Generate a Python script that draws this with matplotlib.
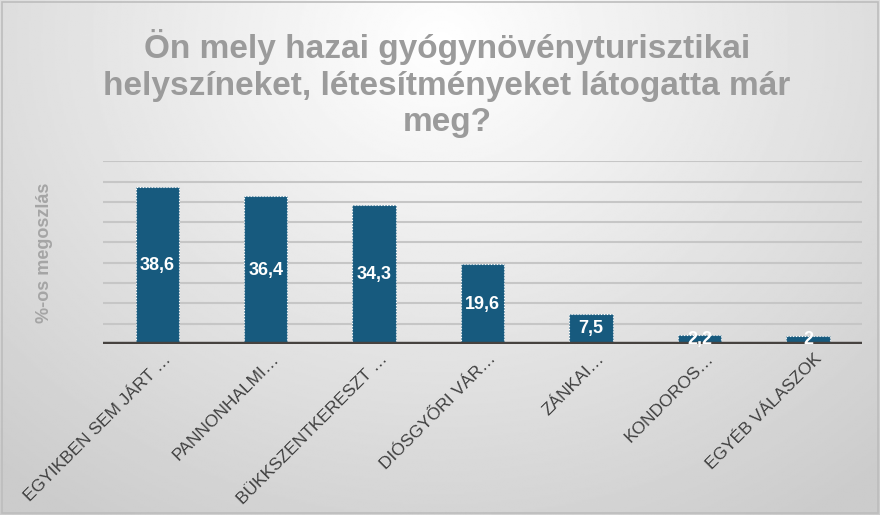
import matplotlib
matplotlib.use("Agg")
import matplotlib.pyplot as plt
import matplotlib.transforms as mtransforms
import numpy as np
from matplotlib.patches import Rectangle

plt.rcParams["font.family"] = ["Liberation Sans", "DejaVu Sans"]

categories = [
    "EGYIKBEN SEM JÁRT …",
    "PANNONHALMI…",
    "BÜKKSZENTKERESZT …",
    "DIÓSGYŐRI VÁR…",
    "ZÁNKAI…",
    "KONDOROS…",
    "EGYÉB VÁLASZOK",
]
values = [38.6, 36.4, 34.3, 19.6, 7.5, 2.2, 2]
grid_ticks = list(range(0, 50, 5))

TITLE = "Ön mely hazai gyógynövényturisztikai\nhelyszíneket, létesítményeket látogatta már\nmeg?"
YLABEL = "%-os megoszlás"

BAR = "#175a7e"
TITLE_C = "#9b9b9b"

fig = plt.figure(figsize=(8.8, 5.15), dpi=100)

# background gradient (light at top centre, grey to the edges)
bg = fig.add_axes([0, 0, 1, 1], zorder=-5)
yy, xx = np.mgrid[0:1:300j, 0:1:500j]
d = np.sqrt(((xx - 0.5) / 0.75) ** 2 + ((yy - 0.08) / 1.1) ** 2)
shade = 1.0 - 0.2 * np.clip(d, 0, 1)
bg.imshow(shade, cmap="gray", vmin=0, vmax=1, aspect="auto",
          extent=[0, 1, 1, 0], interpolation="bilinear")
bg.set_xlim(0, 1)
bg.set_ylim(1, 0)
bg.axis("off")
bg.add_patch(Rectangle((0.002, 0.003), 0.996, 0.994, fill=False,
                       edgecolor="#bdbdbd", linewidth=1.2, transform=bg.transAxes))

ax = fig.add_axes([0.117, 0.332, 0.863, 0.355])
ax.patch.set_alpha(0)

x = np.arange(len(categories))
bars = ax.bar(x, values, width=0.4, color=BAR, edgecolor="white",
              linewidth=0.8, linestyle=":", zorder=3)

for b, v in zip(bars, values):
    ax.text(b.get_x() + b.get_width() / 2, v / 2, f"{v:g}".replace(".", ","),
            ha="center", va="center", color="white", fontsize=13,
            fontweight="bold", zorder=6)

ax.axhline(0, color="#46423f", linewidth=3.2, zorder=4)

ax.set_xlim(-0.5, len(categories) - 0.5)
ax.set_ylim(0, 45)
ax.set_yticks(grid_ticks)
ax.set_yticklabels([])
ax.yaxis.grid(True, color="#c6c6c6", linewidth=1.5, zorder=0)
ax.set_axisbelow(True)

ax.set_xticks(x)
ax.set_xticklabels(categories, rotation=45, ha="right", va="center",
                   rotation_mode="anchor", fontsize=12.5, color="#404040")
ax.tick_params(axis="both", length=0)
ax.tick_params(axis="x", pad=9)
shift = mtransforms.ScaledTranslation(8 / 72, 0, fig.dpi_scale_trans)
for lab in ax.get_xticklabels():
    lab.set_transform(lab.get_transform() + shift)

for spine in ax.spines.values():
    spine.set_visible(False)

fig.text(0.051, 0.51, YLABEL, rotation=90, ha="center", va="center",
         fontsize=13, fontweight="bold", color="#a5a5a5")

fig.text(0.508, 0.943, TITLE, ha="center", va="top", fontsize=24,
         fontweight="bold", color=TITLE_C, linespacing=1.22)

fig.savefig("out.png", dpi=100)
